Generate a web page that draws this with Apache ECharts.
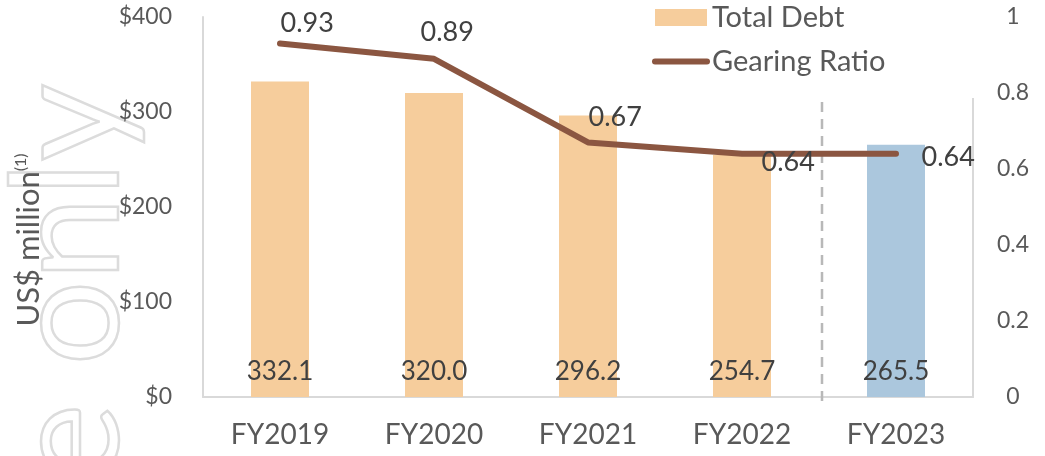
<!DOCTYPE html>
<html>
<head>
<meta charset="utf-8">
<script src="https://cdn.jsdelivr.net/npm/echarts@6/dist/echarts.min.js"></script>
<style>
  html, body { margin: 0; padding: 0; background: #fff; }
  #chart { width: 1045px; height: 456px; }
</style>
</head>
<body>
<div id="chart"></div>
<script>
// data
var years = ['FY2019', 'FY2020', 'FY2021', 'FY2022', 'FY2023'];
var totalDebt = [332.1, 320.0, 296.2, 254.7, 265.5];
var gearingRatio = [0.93, 0.89, 0.67, 0.64, 0.64];
var debtTicks = [0, 100, 200, 300, 400];
var ratioTicks = [0, 0.2, 0.4, 0.6, 0.8, 1];
var lastActual = 3; // FY2022, dashed divider drawn right after it

var font = 'Lato, "Open Sans", sans-serif';
var grey = '#595959';
var peach = '#F6CD9C';
var blue = '#ABC7DD';
var brown = '#8B5641';

// where the ratio labels sit, like in the excel original
var ratioLabelOffset = [[-5, -20], [-19, -27], [-5, -25], [14, 8], [20, 3]];

var chart = echarts.init(document.getElementById('chart'));

var option = {
  animation: false,
  textStyle: { fontFamily: font },
  grid: { left: 203, right: 72, top: 17, bottom: 59 },
  legend: {
    orient: 'vertical',
    left: 648,
    top: 0,
    itemGap: 15,
    itemWidth: 52,
    itemHeight: 17,
    backgroundColor: '#fff',
    padding: [3, 95, 22, 4],
    textStyle: { fontSize: 29, color: grey, fontFamily: font },
    data: [
      { name: 'Total Debt', icon: 'rect' },
      { name: 'Gearing Ratio', itemStyle: { opacity: 0 }, lineStyle: { width: 6, cap: 'round' } }
    ]
  },
  graphic: [{
    type: 'text',
    x: 70,
    y: 84,
    rotation: Math.PI / 2,
    z: -10,
    silent: true,
    style: {
      text: 'use only',
      font: '150px Lato, sans-serif',
      align: 'right',
      verticalAlign: 'middle',
      fill: 'none',
      stroke: '#dcdcdc',
      lineWidth: 2.5
    }
  }],
  xAxis: {
    type: 'category',
    data: years,
    axisTick: { show: false },
    axisLine: { lineStyle: { color: '#d9d9d9', width: 2 } },
    axisLabel: { fontSize: 28, color: grey, margin: 24 }
  },
  yAxis: [
    {
      type: 'value',
      min: debtTicks[0],
      max: debtTicks[debtTicks.length - 1],
      interval: 100,
      name: 'US$ million{s|(1)}',
      nameLocation: 'middle',
      nameGap: 158,
      nameTextStyle: {
        fontSize: 31, color: grey,
        padding: [0, 66, 0, 0],
        rich: { s: { fontSize: 16, color: grey, verticalAlign: 'top', padding: [0, 0, 16, 0] } }
      },
      axisLine: { show: true, lineStyle: { color: '#d9d9d9', width: 2 } },
      axisTick: { show: false },
      splitLine: { show: false },
      axisLabel: {
        fontSize: 23, color: grey, margin: 31,
        formatter: function (v) { return '$' + v; }
      }
    },
    {
      type: 'value',
      min: ratioTicks[0],
      max: ratioTicks[ratioTicks.length - 1],
      interval: 0.2,
      axisLine: { show: true, lineStyle: { color: '#d9d9d9', width: 2 } },
      axisTick: { show: false },
      splitLine: { show: false },
      axisLabel: { fontSize: 23, color: grey, margin: 40, align: 'center' }
    }
  ],
  series: [
    {
      name: 'Total Debt',
      type: 'bar',
      barWidth: 58,
      itemStyle: { color: peach },
      data: totalDebt.map(function (v, i) {
        return i === totalDebt.length - 1 ? { value: v, itemStyle: { color: blue } } : v;
      }),
      label: {
        show: true,
        position: 'insideBottom',
        distance: 12,
        fontSize: 26,
        color: '#404040',
        formatter: function (p) { return p.value.toFixed(1); }
      }
    },
    {
      name: 'Gearing Ratio',
      type: 'line',
      yAxisIndex: 1,
      symbol: 'circle',
      symbolSize: 1,
      showSymbol: true,
      z: 3,
      lineStyle: { color: brown, width: 6, cap: 'round' },
      itemStyle: { color: brown },
      data: gearingRatio.map(function (v, i) {
        return {
          value: v,
          label: { show: true, position: 'right', offset: ratioLabelOffset[i] }
        };
      }),
      label: {
        fontSize: 27,
        color: '#404040',
        distance: 5,
        formatter: function (p) { return p.value.toFixed(2); }
      }
    },
    {
      name: 'divider',
      type: 'custom',
      silent: true,
      z: 1,
      data: [[lastActual]],
      renderItem: function (params, api) {
        var bottom = api.coord([api.value(0), debtTicks[0]]);
        var top = api.coord([api.value(0), debtTicks[debtTicks.length - 1]]);
        var x = bottom[0] + api.size([1, 0])[0] / 2 + 3;
        return {
          type: 'line',
          shape: { x1: x, y1: top[1], x2: x, y2: bottom[1] + 8 },
          style: { stroke: '#b8b8b8', lineWidth: 2.5, lineDash: [10, 7] }
        };
      }
    }
  ]
};

chart.setOption(option);
</script>
</body>
</html>
